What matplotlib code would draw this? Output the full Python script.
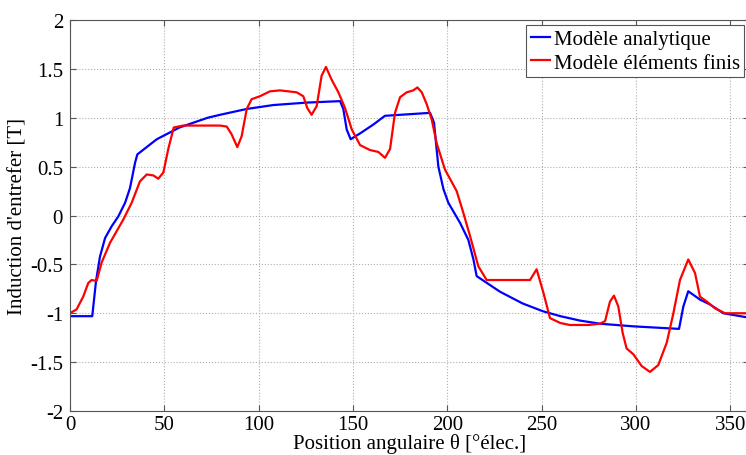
import matplotlib
matplotlib.use("Agg")
import matplotlib.pyplot as plt
from matplotlib.ticker import FuncFormatter

# Modèle analytique (bleu)
theta_ana = [0, 11.8, 13.8, 15.9, 18.6, 22.1, 25.6, 29.2, 31.8, 34.5, 35.7, 46, 58, 73,
             79.5, 93.7, 107.8, 125.5, 143.2, 144.9, 146.7, 148.8, 153.8, 160.8, 167,
             190.9, 193, 195.3, 198, 200.6, 206.8, 211.2, 213.9, 215.6, 228, 240, 250.8,
             260, 270.4, 281, 298.7, 322.9, 325.2, 327.8, 334, 339.3, 346.4, 358.4, 360]
b_ana = [-1.03, -1.03, -0.67, -0.42, -0.23, -0.11, -0.01, 0.13, 0.28, 0.54, 0.625, 0.78, 0.9, 1.0,
         1.03, 1.09, 1.13, 1.155, 1.17, 1.09, 0.88, 0.78, 0.84, 0.93, 1.02,
         1.05, 0.95, 0.5, 0.27, 0.13, -0.075, -0.25, -0.45, -0.62, -0.78, -0.9, -0.98,
         -1.03, -1.075, -1.107, -1.134, -1.16, -0.93, -0.775, -0.86, -0.91, -1.0, -1.04, -1.04]

# Modèle éléments finis (rouge)
theta_ef = [0, 3.5, 7, 9.7, 11.5, 14.1, 16.8, 21.2, 28.3, 32.7, 37.1, 40.7, 44.2, 46.8,
            49.5, 52.1, 55, 60, 79.5, 83.1, 85.7, 88.7, 91, 93.7, 96.3, 100.7, 106, 111.3,
            120.2, 123.7, 125.8, 128.1, 130.8, 133.4, 135.7, 138.7, 142.3, 145.8, 149.4,
            153.8, 159, 163.5, 167, 169.7, 172.3, 175, 178.5, 182, 184.2, 186.5, 189.1,
            191.8, 194.4, 198.8, 205, 208.5, 212.1, 216.5, 220.9, 228, 243.9, 247.4, 251,
            254.5, 260, 265, 275, 281, 283.7, 286.3, 288.4, 290.7, 293, 295.1, 298.7,
            303.1, 307.5, 311.9, 316.4, 319.9, 323.4, 327.8, 331.4, 334, 337.6, 342,
            347.3, 358.4, 360]
b_ef = [-1.0, -0.96, -0.83, -0.69, -0.66, -0.67, -0.48, -0.28, -0.04, 0.13, 0.35, 0.42, 0.41, 0.376,
        0.44, 0.68, 0.9, 0.92, 0.92, 0.91, 0.83, 0.70, 0.81, 1.09, 1.19, 1.22, 1.27, 1.28,
        1.26, 1.22, 1.10, 1.03, 1.12, 1.43, 1.52, 1.39, 1.26, 1.10, 0.88,
        0.72, 0.67, 0.65, 0.59, 0.68, 1.05, 1.21, 1.26, 1.28, 1.31, 1.26, 1.14,
        0.98, 0.74, 0.47, 0.25, 0.03, -0.21, -0.52, -0.66, -0.66, -0.66, -0.55, -0.79,
        -1.05, -1.1, -1.12, -1.12, -1.107, -1.08, -0.88, -0.82, -0.93, -1.20, -1.36, -1.42,
        -1.54, -1.60, -1.53, -1.30, -1.0, -0.66, -0.45, -0.59, -0.83, -0.88, -0.95,
        -1.0, -1.0, -1.0]

x_ticks = [0, 50, 100, 150, 200, 250, 300, 350]
y_ticks = [-2, -1.5, -1, -0.5, 0, 0.5, 1, 1.5, 2]

plt.rcParams['font.family'] = ['Liberation Serif', 'DejaVu Serif']

fig = plt.figure(figsize=(7.46, 4.56), dpi=100)
ax = fig.add_axes([70 / 746, 1 - 412 / 456, 679 / 746, 391 / 456])

ax.plot(theta_ana, b_ana, color='#0000ff', linewidth=1.6, label='Modèle analytique')
ax.plot(theta_ef, b_ef, color='#ff0000', linewidth=1.6, label='Modèle éléments finis')

ax.set_xlim(0, 360)
ax.set_ylim(-2, 2)
ax.set_xticks(x_ticks)
ax.set_yticks(y_ticks)
ax.yaxis.set_major_formatter(FuncFormatter(lambda v, p: ('%g' % v)))
ax.tick_params(direction='in', top=True, right=True, labelsize=15, length=4, color='#555555')
ax.tick_params(axis='x', pad=3)
ax.tick_params(axis='y', pad=5)
for s in ax.spines.values():
    s.set_color('#555555')
    s.set_linewidth(0.8)
ax.grid(True, linestyle=':', color='#b0b0b0', linewidth=0.8)

ax.set_xlabel('Position angulaire θ [°élec.]', fontsize=15, labelpad=-1)
ax.set_ylabel("Induction d'entrefer [T]", fontsize=15, labelpad=2)

leg = ax.legend(loc='upper right', fontsize=15, fancybox=False, framealpha=1,
                edgecolor='#555555', handlelength=0.95, handletextpad=0.15,
                borderpad=0.2, labelspacing=0.2, borderaxespad=0.25)
leg.get_frame().set_linewidth(0.8)

fig.savefig('out.png', dpi=100)
